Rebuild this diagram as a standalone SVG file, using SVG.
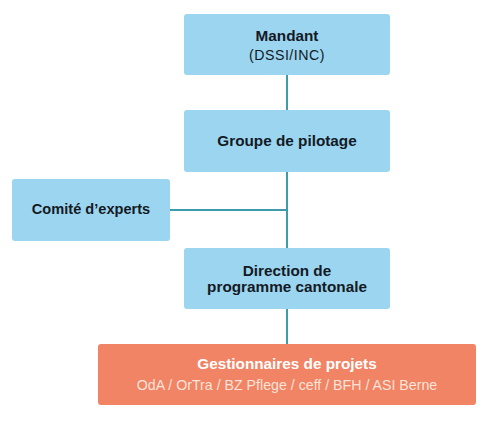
<svg xmlns="http://www.w3.org/2000/svg" width="492" height="423" viewBox="0 0 492 423">
<style>
.box{fill:#9BD5F0}
.org{fill:#F08465}
.t{font-family:"Liberation Sans",Arial,sans-serif;font-size:14.2px;text-anchor:middle;fill:#141A24}
.b{font-weight:bold;font-size:15.3px}
.w{fill:#FFFFFF}
.lw{fill:#FCE3D8}
.c{stroke:#3E9BAA;stroke-width:2;fill:none}
</style>
<rect width="492" height="423" fill="#FFFFFF"/>
<g id="connectors">
<line class="c" x1="287" y1="75" x2="287" y2="110"/>
<line class="c" x1="287" y1="172" x2="287" y2="248"/>
<line class="c" x1="170" y1="210" x2="287" y2="210"/>
<line class="c" x1="287" y1="309" x2="287" y2="344"/>
</g>
<g id="mandant">
<rect class="box" x="184" y="14" width="206" height="61" rx="3"/>
<text class="t b" x="287" y="41">Mandant</text>
<text class="t" x="287" y="60" letter-spacing="0.5">(DSSI/INC)</text>
</g>
<g id="groupe">
<rect class="box" x="184" y="110" width="206" height="62" rx="3"/>
<text class="t b" x="287" y="146">Groupe de pilotage</text>
</g>
<g id="comite">
<rect class="box" x="12" y="179" width="158" height="62" rx="3"/>
<text class="t b" x="91" y="214" style="font-size:14.6px">Comité d’experts</text>
</g>
<g id="direction">
<rect class="box" x="184" y="248" width="206" height="61" rx="3"/>
<text class="t b" x="287" y="276">Direction de</text>
<text class="t b" x="287" y="292">programme cantonale</text>
</g>
<g id="gestionnaires">
<rect class="org" x="98" y="344" width="378" height="61" rx="3"/>
<text class="t b w" x="287" y="369">Gestionnaires de projets</text>
<text class="t lw" x="287" y="390">OdA / OrTra / BZ Pflege / ceff / BFH / ASI Berne</text>
</g>
</svg>
